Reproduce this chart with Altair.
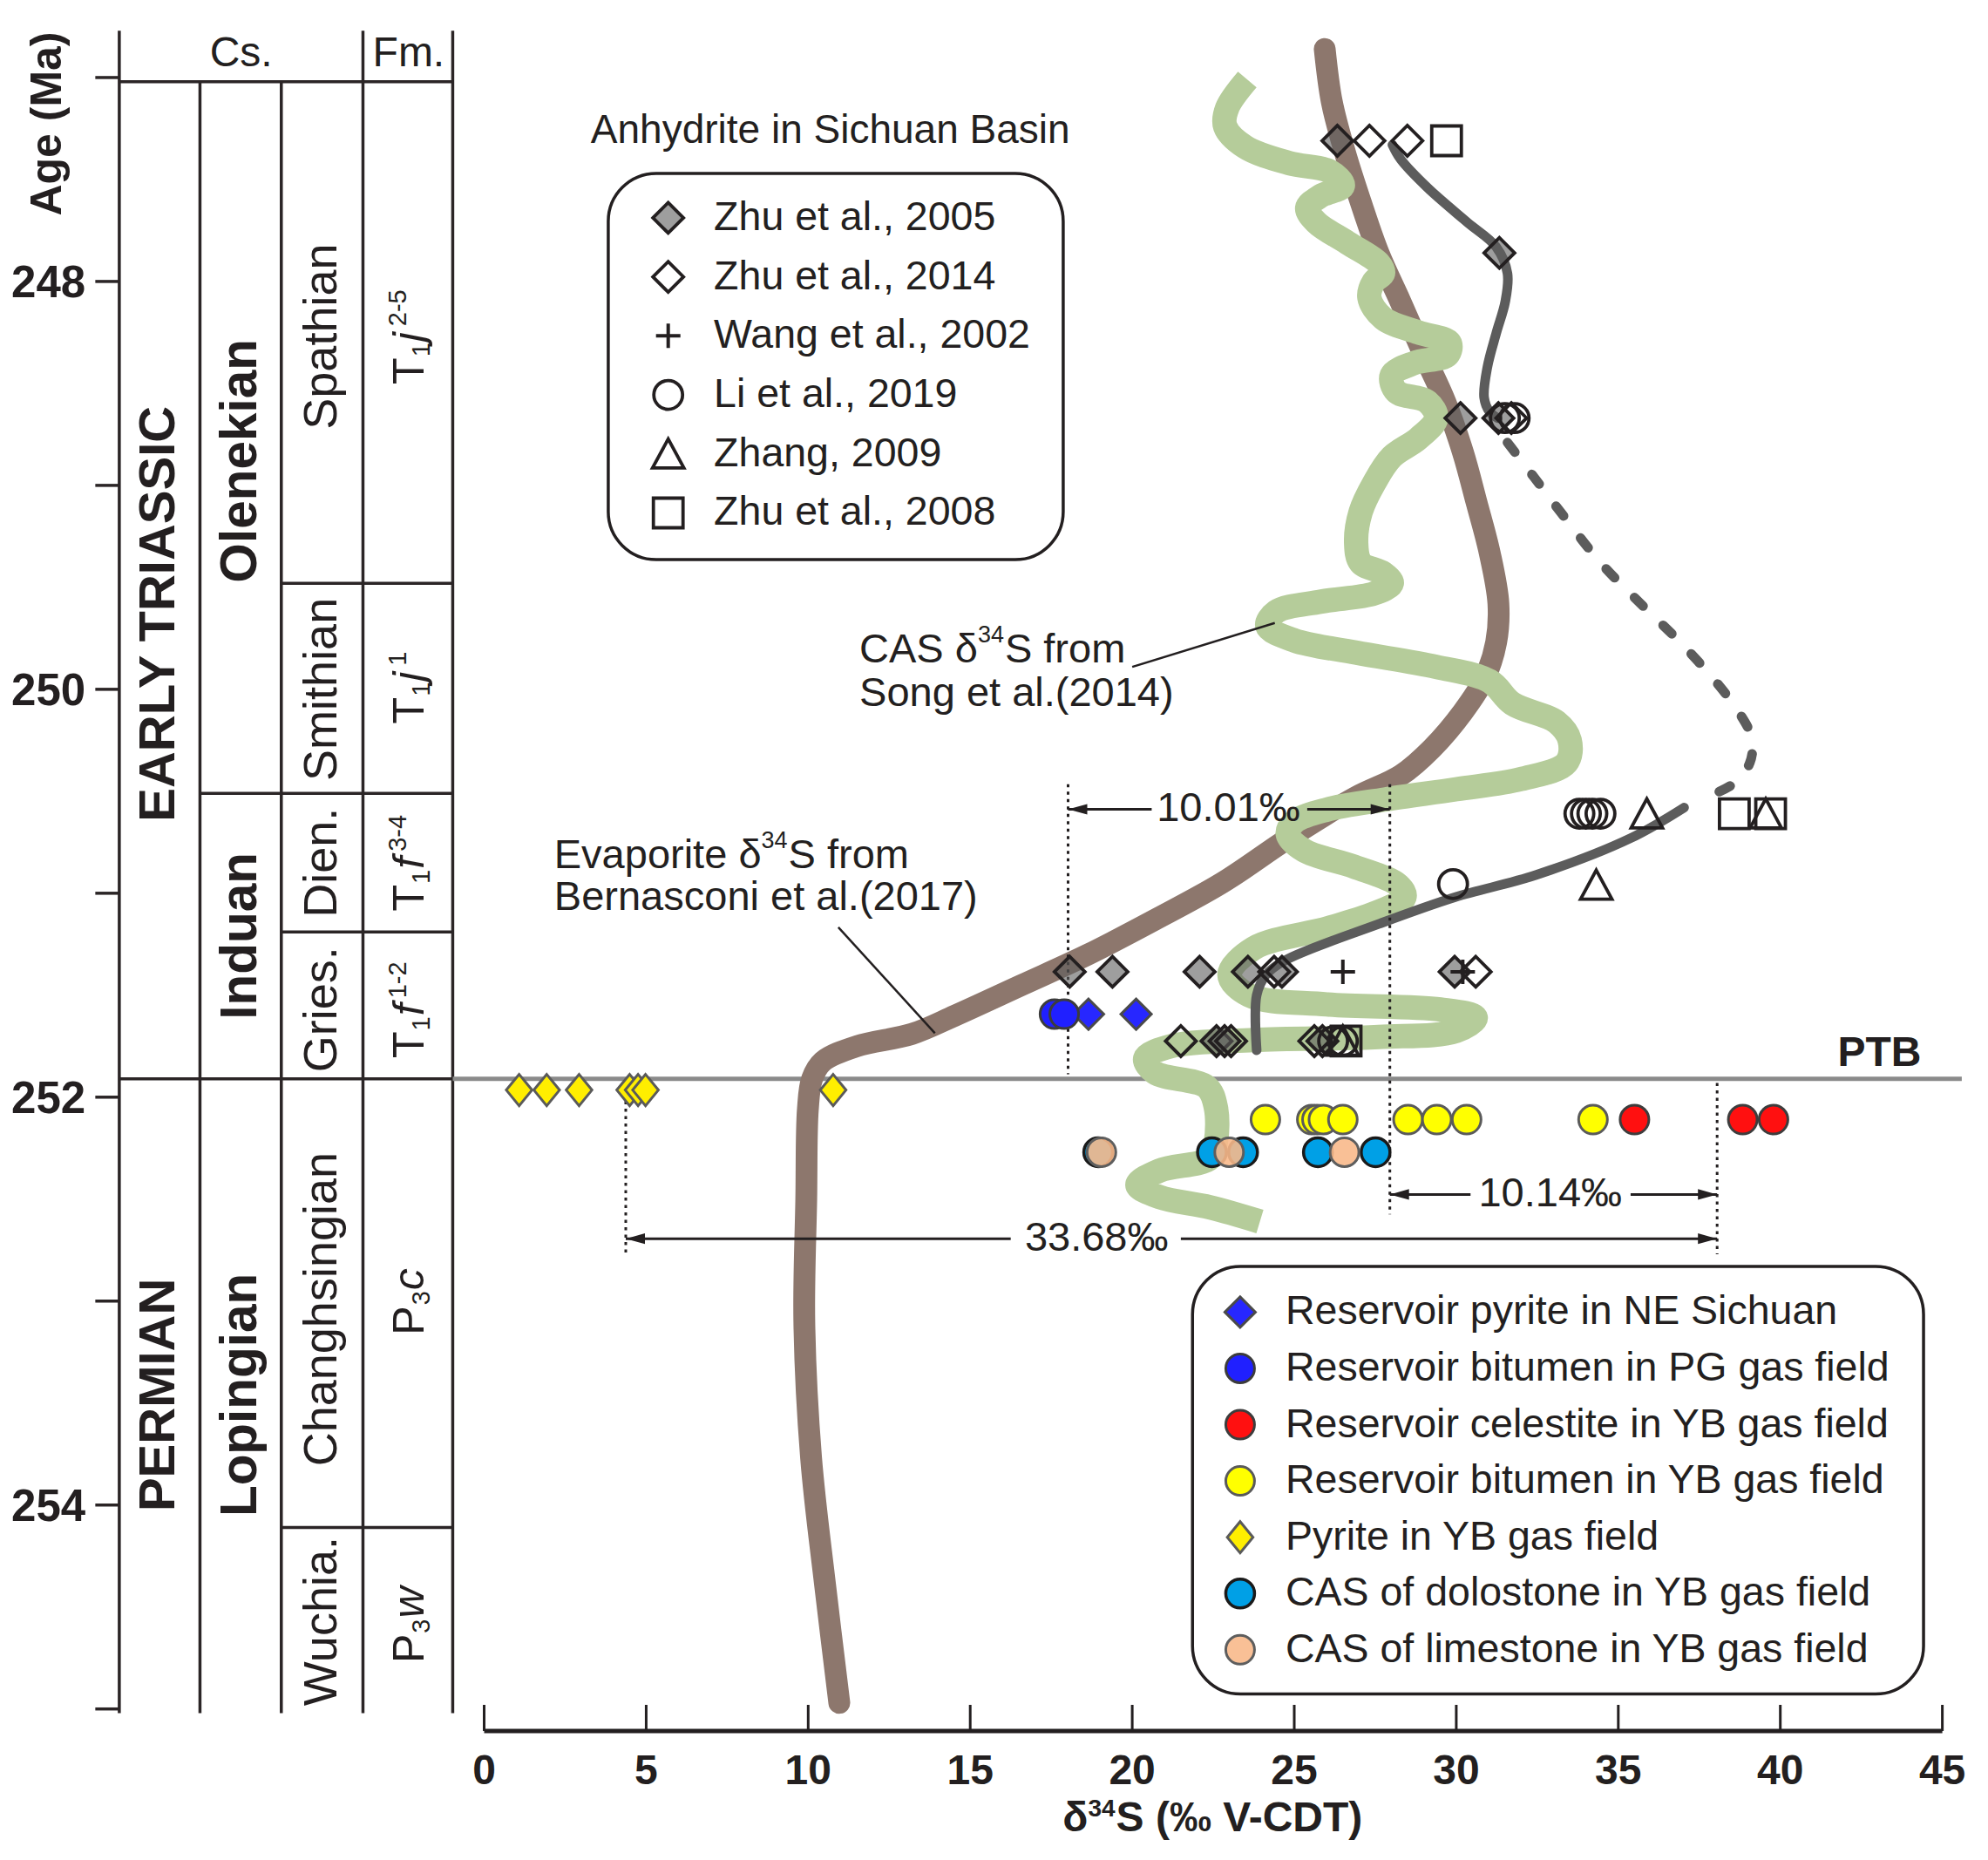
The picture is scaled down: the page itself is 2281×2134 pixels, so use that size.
import altair as alt
import pandas as pd

FONT = "Liberation Sans, Arial, Helvetica, DejaVu Sans, sans-serif"
INK = "#231f20"

# ======================= DATA =======================
# Evaporite d34S curve (Bernasconi et al., 2017)
evap_d34s = [25.94, 26.16, 26.57, 27.05, 27.60, 28.28, 28.97, 29.66, 30.21, 30.62, 31.03, 31.30,
             31.23, 30.89, 30.21, 29.25, 28.30, 26.88, 24.82, 22.76, 20.70, 18.64, 16.59, 14.53,
             13.20, 11.50, 10.45, 10.12, 9.99, 9.94, 9.88, 10.09, 10.52, 10.96]
evap_age = [246.86, 247.12, 247.37, 247.61, 247.86, 248.10, 248.35, 248.59, 248.84, 249.08, 249.33, 249.58,
            249.77, 249.94, 250.11, 250.29, 250.42, 250.53, 250.73, 250.95, 251.13, 251.30, 251.45, 251.60,
            251.69, 251.75, 251.825, 251.91, 252.06, 252.50, 253.10, 253.77, 254.39, 254.97]

# CAS d34S curve (Song et al., 2014)
cas_d34s = [23.55, 22.93, 22.87, 23.48, 24.85, 26.09, 26.50, 25.82, 25.40, 25.68, 26.64, 27.60, 27.74,
            27.46, 27.32, 27.74, 28.83, 29.79, 29.73, 28.70, 28.01, 28.15, 29.11, 29.38, 28.83, 28.01,
            27.46, 27.05, 26.91, 27.05, 27.74, 28.01, 27.46, 25.82, 24.44, 24.17, 25.00, 26.91, 29.38,
            31.03, 31.73, 33.09, 33.50, 33.40, 32.00, 30.00, 27.80, 26.00, 25.00, 24.80, 25.30, 26.85,
            28.21, 28.40, 27.62, 26.07, 23.75, 23.00, 23.60, 26.00, 29.50, 30.60, 30.00, 27.60, 23.75,
            21.20, 20.40, 20.70, 22.30, 22.58, 22.58, 22.39, 20.84, 20.16, 20.84, 22.39, 23.94]
cas_age = [247.01, 247.15, 247.24, 247.34, 247.42, 247.46, 247.53, 247.58, 247.64, 247.71, 247.81, 247.91,
           247.96, 248.00, 248.08, 248.18, 248.25, 248.30, 248.36, 248.40, 248.46, 248.54, 248.59, 248.67,
           248.77, 248.86, 248.99, 249.13, 249.28, 249.38, 249.43, 249.48, 249.53, 249.57, 249.62, 249.69,
           249.76, 249.82, 249.89, 249.96, 250.07, 250.16, 250.25, 250.36, 250.44, 250.49, 250.54, 250.59,
           250.65, 250.71, 250.79, 250.87, 250.96, 251.02, 251.09, 251.17, 251.27, 251.40, 251.50, 251.545,
           251.57, 251.61, 251.675, 251.705, 251.72, 251.75, 251.81, 251.88, 251.95, 252.05, 252.22, 252.30,
           252.36, 252.43, 252.49, 252.54, 252.61]

# anhydrite trend (solid upper, dashed middle, solid lower)
trend_up_d34s = [28.03, 28.28, 29.11, 30.34, 31.23, 31.58, 31.51, 31.24, 30.96, 30.86, 31.03, 31.28]
trend_up_age = [247.33, 247.40, 247.54, 247.71, 247.83, 247.96, 248.10, 248.25, 248.42, 248.57, 248.64, 248.67]
trend_dash_d34s = [31.58, 32.40, 33.36, 34.46, 35.69, 36.79, 37.89, 38.71, 39.12, 39.06, 38.58, 37.70]
trend_dash_age = [248.79, 248.96, 249.16, 249.38, 249.58, 249.75, 249.94, 250.11, 250.24, 250.36, 250.46, 250.53]
trend_low_d34s = [37.03, 35.38, 32.47, 29.95, 27.62, 24.71, 24.13, 23.84, 23.84]
trend_low_age = [250.58, 250.73, 250.91, 251.02, 251.15, 251.33, 251.40, 251.50, 251.77]

# anhydrite in Sichuan Basin
zhu2005_d34s = [26.33, 31.33, 30.13, 31.30, 18.07, 19.39, 22.08, 23.57, 24.62, 29.95, 22.60, 22.85, 25.87]
zhu2005_age = [247.31, 247.86, 248.67, 248.67, 251.385, 251.385, 251.385, 251.385, 251.385, 251.385,
               251.725, 251.725, 251.725]
zhu2014_d34s = [27.32, 28.49, 31.70, 24.38, 30.60, 21.50, 23.05, 25.62]
zhu2014_age = [247.31, 247.31, 248.67, 251.385, 251.385, 251.725, 251.725, 251.725]
wang2002_d34s = [26.50, 30.20]
wang2002_age = [251.385, 251.385]
li2019_d34s = [31.50, 31.80, 33.80, 34.00, 34.20, 34.45, 29.90, 26.20, 26.50]
li2019_age = [248.67, 248.67, 250.61, 250.61, 250.61, 250.61, 250.955, 251.725, 251.725]
zhang2009_d34s = [35.88, 39.55, 34.32, 26.50]
zhang2009_age = [250.61, 250.61, 250.96, 251.725]
zhu2008_d34s = [29.70, 38.58, 39.70, 26.60]
zhu2008_age = [247.31, 250.61, 250.61, 251.725]

# reservoir / YB gas field samples
ne_pyrite_d34s = [18.65, 20.12]
ne_pyrite_age = [251.593, 251.593]
pg_bitumen_d34s = [17.60, 17.90]
pg_bitumen_age = [251.593, 251.593]
celestite_d34s = [35.50, 38.84, 39.79]
celestite_age = [252.11, 252.11, 252.11]
yb_bitumen_d34s = [24.11, 25.54, 25.70, 25.90, 26.50, 28.51, 29.40, 30.32, 34.22]
yb_bitumen_age = [252.11] * 9
yb_pyrite_d34s = [1.08, 1.93, 2.93, 4.49, 4.75, 4.98, 10.77]
yb_pyrite_age = [251.965] * 7
dolostone_d34s = [18.95, 22.46, 23.42, 25.73, 27.51]
dolostone_age = [252.27] * 5
limestone_d34s = [19.05, 22.99, 26.55]
limestone_age = [252.27] * 3

# chronostratigraphy
period_names = ["EARLY TRIASSIC", "PERMIAN"]
period_label_age = [249.63, 253.46]
epoch_names = ["Olenekian", "Induan", "Lopingian"]
epoch_label_age = [248.88, 251.21, 253.46]
stage_names = ["Spathian", "Smithian", "Dien.", "Gries.", "Changhsingian", "Wuchia."]
stage_label_age = [248.27, 250.00, 250.85, 251.57, 253.04, 254.57]
epoch_bounds = [250.51]
stage_bounds = [249.48, 251.19, 254.11]
ptb_age = 251.91
header_age = 247.02
column_top = 246.77
column_bottom = 255.02
fm_label_pieces = [
    [("T", "n"), ("1", "sub"), ("j", "i"), ("2-5", "sup")],
    [("T", "n"), ("1", "sub"), ("j", "i"), ("1", "sup")],
    [("T", "n"), ("1", "sub"), ("f", "i"), ("3-4", "sup")],
    [("T", "n"), ("1", "sub"), ("f", "i"), ("1-2", "sup")],
    [("P", "n"), ("3", "sub"), ("c", "i")],
    [("P", "n"), ("3", "sub"), ("w", "i")],
]
fm_label_age = [248.27, 249.99, 250.85, 251.57, 252.99, 254.575]

age_ticks = [247, 248, 249, 250, 251, 252, 253, 254, 255]
age_tick_labels = [248, 250, 252, 254]
x_ticks = [0, 5, 10, 15, 20, 25, 30, 35, 40, 45]

# ======================= GEOMETRY =======================
W, H = 2265, 2118
XMIN, XMAX = -14.726, 46.194
YMIN, YMAX = 246.654, 255.7065
PXU = W / (XMAX - XMIN)
PXA = H / (YMAX - YMIN)

XS = alt.Scale(domain=[XMIN, XMAX], nice=False, zero=False)
YS = alt.Scale(domain=[YMIN, YMAX], nice=False, zero=False, reverse=True)


def X(f="d"):
    return alt.X(f"{f}:Q", scale=XS, axis=None)


def Y(f="age"):
    return alt.Y(f"{f}:Q", scale=YS, axis=None)


def rules(rows, color=INK, width=3.5, dash=None):
    df = pd.DataFrame(rows, columns=["d", "d2", "age", "age2"])
    kw = dict(color=color, strokeWidth=width)
    if dash:
        kw["strokeDash"] = dash
    return alt.Chart(df).mark_rule(**kw).encode(x=X("d"), x2="d2:Q", y=Y("age"), y2="age2:Q")


def texts(rows, size, weight="normal", style="normal", angle=0, align="center",
          baseline="middle", dx=0, dy=0, color=INK):
    df = pd.DataFrame(rows, columns=["d", "age", "t"])
    kw = dict(font=FONT, fontSize=size, fontWeight=weight, fontStyle=style, align=align,
              baseline=baseline, color=color)
    if angle:
        kw["angle"] = angle
    if dx:
        kw["dx"] = dx
    if dy:
        kw["dy"] = dy
    return alt.Chart(df).mark_text(**kw).encode(x=X("d"), y=Y("age"), text="t:N")


def curve(d, age, color, width, dash=None, cap="round"):
    df = pd.DataFrame({"d": d, "age": age, "i": list(range(len(d)))})
    kw = dict(color=color, strokeWidth=width, strokeCap=cap, strokeJoin="round",
              interpolate="catmull-rom")
    if dash:
        kw["strokeDash"] = dash
    return alt.Chart(df).mark_line(**kw).encode(x=X("d"), y=Y("age"), order="i:Q")


def symbols(d, age, shape, size, fill=None, stroke=INK, sw=3.5, fo=1.0):
    df = pd.DataFrame({"d": d, "age": age})
    if fill is None:
        m = alt.Chart(df).mark_point(shape=shape, size=size, filled=False, stroke=stroke,
                                     strokeWidth=sw, opacity=1)
    else:
        m = alt.Chart(df).mark_point(shape=shape, size=size, filled=True, fill=fill, fillOpacity=fo,
                                     stroke=stroke, strokeWidth=sw, opacity=1)
    return m.encode(x=X("d"), y=Y("age"))


def sup_label(left, age, pre, pre_em, sup, post, size, sup_size, weight="normal", baseline="middle"):
    """text with a small raised part: pre (right-aligned at P) + sup + post."""
    p = left + pre_em * size / PXU
    w_sup = len(sup) * 0.556 * sup_size + 1
    out = [texts([(p, age, pre)], size, weight=weight, align="right", baseline=baseline),
           texts([(p, age, sup)], sup_size, weight=weight, align="left", baseline=baseline,
                 dy=-round(0.36 * size)),
           texts([(p + w_sup / PXU, age, post)], size, weight=weight, align="left", baseline=baseline)]
    return out


TRI = "M0,-0.95L1,0.9L-1,0.9Z"
PLUS = "M-1,0L1,0M0,-1L0,1"
YDIA = "M0,-1L0.82,0L0,1L-0.82,0Z"
ARR_R = "M0,0L-2,-0.55L-2,0.55Z"
ARR_L = "M0,0L2,-0.55L2,0.55Z"

anh_series = [
    ("Zhu et al., 2005", zhu2005_d34s, zhu2005_age, dict(shape="diamond", size=1225, fill="#5e5e5e", fo=0.6, sw=3.8)),
    ("Zhu et al., 2014", zhu2014_d34s, zhu2014_age, dict(shape="diamond", size=1225, sw=3.8)),
    ("Wang et al., 2002", wang2002_d34s, wang2002_age, dict(shape=PLUS, size=784, sw=4)),
    ("Li et al., 2019", li2019_d34s, li2019_age, dict(shape="circle", size=1089, sw=3.8)),
    ("Zhang, 2009", zhang2009_d34s, zhang2009_age, dict(shape=TRI, size=1296, sw=3.8)),
    ("Zhu et al., 2008", zhu2008_d34s, zhu2008_age, dict(shape="square", size=1156, sw=3.8)),
]
res_series = [
    ("Reservoir pyrite in NE Sichuan", ne_pyrite_d34s, ne_pyrite_age, dict(shape="diamond", size=1225, fill="#2727ff", stroke="#4a4a4a", sw=3)),
    ("Reservoir bitumen in PG gas field", pg_bitumen_d34s, pg_bitumen_age, dict(shape="circle", size=1089, fill="#2020ff", stroke="#3c3c3c", sw=3)),
    ("Reservoir celestite in YB gas field", celestite_d34s, celestite_age, dict(shape="circle", size=1089, fill="#ff1010", stroke="#3d3d3d", sw=3)),
    ("Reservoir bitumen in YB gas field", yb_bitumen_d34s, yb_bitumen_age, dict(shape="circle", size=1089, fill="#ffff00", stroke="#5a5a5a", sw=3)),
    ("Pyrite in YB gas field", yb_pyrite_d34s, yb_pyrite_age, dict(shape=YDIA, size=1296, fill="#ffee00", stroke="#5a5a5a", sw=3)),
    ("CAS of dolostone in YB gas field", dolostone_d34s, dolostone_age, dict(shape="circle", size=1089, fill="#00a0e6", stroke="#1a1a1a", sw=3.5)),
    ("CAS of limestone in YB gas field", limestone_d34s, limestone_age, dict(shape="circle", size=1089, fill="#f8b98b", stroke="#5e5e5e", sw=3, fo=0.9)),
]

layers = []

# ---------- stratigraphic column ----------
CL = [-11.26, -8.77, -6.26, -3.74, -0.97]
col_rows = [
    (CL[0], CL[0], column_top, column_bottom),
    (CL[1], CL[1], header_age, column_bottom),
    (CL[2], CL[2], header_age, column_bottom),
    (CL[3], CL[3], column_top, column_bottom),
    (CL[4], CL[4], column_top, column_bottom),
    (CL[0], CL[4], header_age, header_age),
    (CL[0], CL[4], ptb_age, ptb_age),
]
col_rows += [(CL[1], CL[4], a, a) for a in epoch_bounds]
col_rows += [(CL[2], CL[4], a, a) for a in stage_bounds]
col_rows += [(-12.0, CL[0], a, a) for a in age_ticks]
layers.append(rules(col_rows, color="#2b2526", width=3.5))

# PTB line
layers.append(rules([(CL[4], 45.6, ptb_age, ptb_age)], color="#8a8a8a", width=5))

# column labels
layers.append(texts([(-10.02, a, n) for n, a in zip(period_names, period_label_age)], 58, weight="bold", angle=270))
layers.append(texts([(-7.515, a, n) for n, a in zip(epoch_names, epoch_label_age)], 58.5, weight="bold", angle=270))
layers.append(texts([(-5.0, a, n) for n, a in zip(stage_names, stage_label_age)], 54, angle=270))
layers.append(texts([(-7.5, 246.945, "Cs."), (-2.33, 246.945, "Fm.")], 48, baseline="alphabetic"))
layers.append(texts([(-12.3, a + 0.012, str(a)) for a in age_tick_labels], 51, weight="bold", align="right"))
layers.append(texts([(-13.46, 247.227, "Age (Ma)")], 50, weight="bold", angle=270))

# formation labels with sub/superscripts
EM = {"T": .611, "P": .667, "j": .26, "f": .30, "c": .52, "w": .74, "-": .333}
BASE, SMALL = 50, 29
fm_rows = {"n": [], "i": [], "sub": [], "sup": []}
FM_BASE_X = -1.88
for pieces, a in zip(fm_label_pieces, fm_label_age):
    offs, o = [], 0.0
    for txt, kind in pieces:
        sz = BASE if kind in ("n", "i") else SMALL
        offs.append(o)
        o += sum(EM.get(c, .556) for c in txt) * sz + (5 if kind == "i" else 1)
    start = a + o / 2 / PXA
    for (txt, kind), off in zip(pieces, offs):
        fm_rows[kind].append((FM_BASE_X, start - off / PXA, txt))
layers.append(texts(fm_rows["n"], BASE, angle=270, align="left", baseline="alphabetic"))
layers.append(texts(fm_rows["i"], BASE, style="italic", angle=270, align="left", baseline="alphabetic"))
layers.append(texts(fm_rows["sub"], SMALL, angle=270, align="left", baseline="alphabetic", dy=7))
layers.append(texts(fm_rows["sup"], SMALL, angle=270, align="left", baseline="alphabetic", dy=-20))

# ---------- x axis ----------
X_AXIS_AGE, X_TICK_TOP = 255.108, 254.98
layers.append(rules([(0, 45, X_AXIS_AGE, X_AXIS_AGE)], width=5))
layers.append(rules([(t, t, X_TICK_TOP, X_AXIS_AGE) for t in x_ticks], width=3))
layers.append(texts([(t, 255.369, str(t)) for t in x_ticks], 48, weight="bold", baseline="alphabetic"))
_title_w = 0.61 * 48 + 2 * 0.556 * 28 + 5.944 * 48
layers += sup_label(22.5 - _title_w / 2 / PXU, 255.60, "δ", 0.61, "34", "S (‰ V-CDT)", 48, 28,
                    weight="bold", baseline="alphabetic")

# ---------- curves ----------
layers.append(curve(evap_d34s, evap_age, "#8d776d", 25))
layers.append(curve(cas_d34s, cas_age, "#b5cc9a", 28, cap="butt"))
layers.append(curve(trend_up_d34s, trend_up_age, "#5c5c5c", 11))
layers.append(curve(trend_dash_d34s, trend_dash_age, "#5c5c5c", 11, dash=[14, 32]))
layers.append(curve(trend_low_d34s, trend_low_age, "#5c5c5c", 11))

# ---------- range annotations ----------
layers.append(rules([(18.02, 18.02, 250.465, 251.888), (27.95, 27.95, 250.465, 252.575),
                     (38.05, 38.05, 251.93, 252.77), (4.37, 4.37, 252.02, 252.77)],
                    width=3, dash=[3.5, 5]))
layers.append(rules([(18.02, 20.6, 250.588, 250.588), (25.4, 27.95, 250.588, 250.588),
                     (27.95, 30.44, 252.477, 252.477), (35.38, 38.05, 252.477, 252.477),
                     (4.37, 16.25, 252.694, 252.694), (21.5, 38.05, 252.694, 252.694)], width=3))
layers.append(symbols([18.02, 27.95, 4.37], [250.588, 252.477, 252.694], ARR_L, 484, fill=INK, sw=0))
layers.append(symbols([27.95, 38.05, 38.05], [250.588, 252.477, 252.694], ARR_R, 484, fill=INK, sw=0))
layers.append(texts([(22.97, 250.588, "10.01‰"), (32.9, 252.477, "10.14‰"), (18.9, 252.694, "33.68‰")], 47))

# leader lines + annotation labels
layers.append(rules([(20.0, 24.4, 249.89, 249.675), (10.93, 13.91, 251.167, 251.686)], width=2.5))
layers += sup_label(11.58, 249.81, "CAS δ", 2.89, "34", "S from", 47, 27)
layers.append(texts([(11.58, 250.02, "Song et al.(2014)"), (2.16, 251.022, "Bernasconi et al.(2017)")],
                    47, align="left"))
layers += sup_label(2.16, 250.815, "Evaporite δ", 5.058, "34", "S  from", 47, 27)
layers.append(texts([(44.35, 251.848, "PTB")], 48, weight="bold", align="right", baseline="alphabetic"))

# ---------- legend boxes ----------
box_df = pd.DataFrame({"d": [3.83, 21.86], "d2": [17.87, 44.42], "age": [247.47, 252.83], "age2": [249.364, 254.927]})
layers.append(alt.Chart(box_df).mark_rect(cornerRadius=55, fill="white", stroke=INK, strokeWidth=3.5)
              .encode(x=X("d"), x2="d2:Q", y=Y("age"), y2="age2:Q"))
layers.append(texts([(3.29, 247.26, "Anhydrite in Sichuan Basin")], 46, align="left"))

# ---------- markers ----------
for name, d, a, st in res_series:
    layers.append(symbols(d, a, **st))
for name, d, a, st in anh_series:
    layers.append(symbols(d, a, **st))

# legend entries
for i, (name, d, a, st) in enumerate(anh_series):
    layers.append(symbols([5.68], [247.688 + i * 0.2894], **st))
layers.append(texts([(7.09, 247.688 + i * 0.2894, s[0]) for i, s in enumerate(anh_series)], 46.5, align="left"))
for i, (name, d, a, st) in enumerate(res_series):
    layers.append(symbols([23.33], [253.054 + i * 0.276], **st))
layers.append(texts([(24.73, 253.054 + i * 0.276, s[0]) for i, s in enumerate(res_series)], 46.5, align="left"))

chart = alt.layer(*layers).properties(
    width=W, height=H, padding=0,
    autosize=alt.AutoSizeParams(type="none"),
    background="white",
).configure_view(stroke=None)

chart.save("out.html", embed_options={"renderer": "svg", "actions": False})
